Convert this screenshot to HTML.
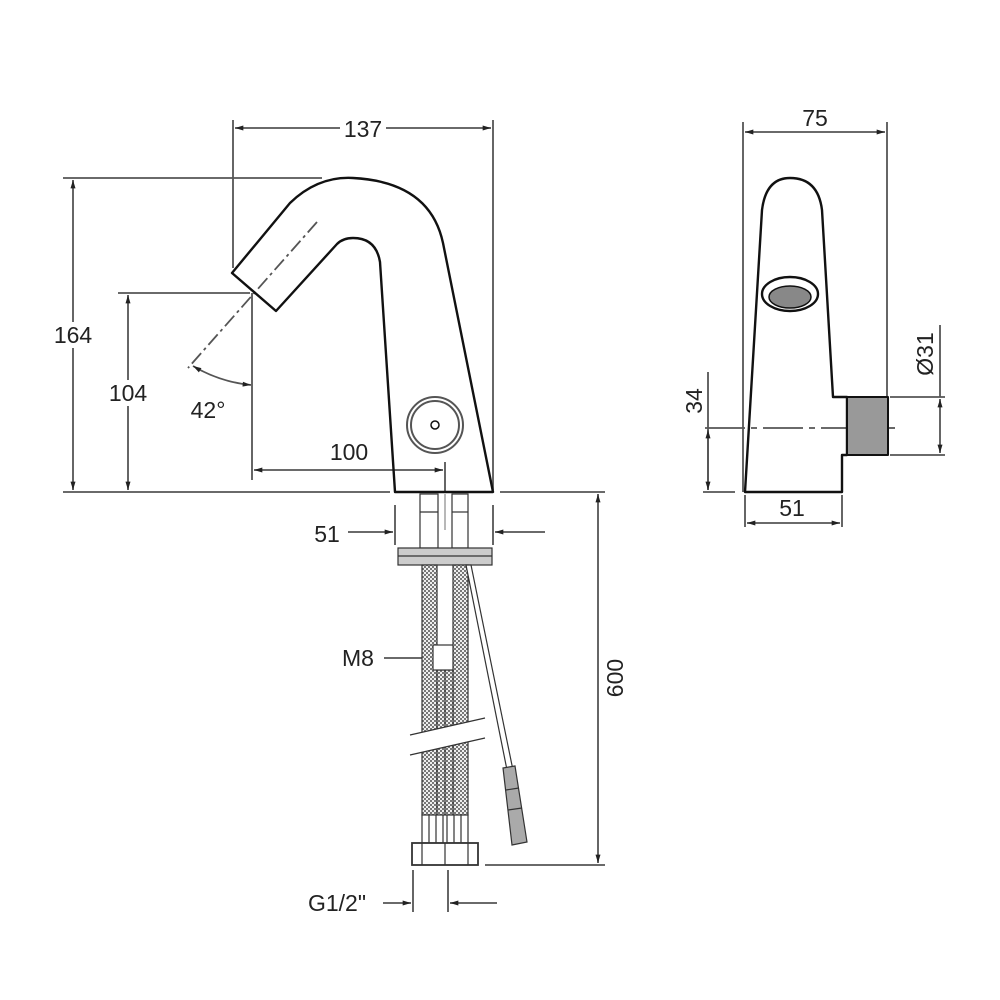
<!DOCTYPE html>
<html><head><meta charset="utf-8"><style>
html,body{margin:0;padding:0;background:#fff}
svg{display:block}
text{font-family:"Liberation Sans",sans-serif;font-size:23px;fill:#222}
</style></head><body>
<svg width="1000" height="1000" viewBox="0 0 1000 1000" xmlns="http://www.w3.org/2000/svg">
<defs>
<marker id="a" viewBox="0 0 10 6" refX="10" refY="3" markerWidth="12" markerHeight="5" orient="auto-start-reverse" markerUnits="userSpaceOnUse"><path d="M0,0 L10,3 L0,6 z" fill="#222"/></marker>
<pattern id="mesh" width="4" height="4" patternUnits="userSpaceOnUse"><rect width="4" height="4" fill="#777"/><rect width="2" height="2" fill="#eee"/><rect x="2" y="2" width="2" height="2" fill="#eee"/></pattern>
</defs>
<g stroke="#555" stroke-width="1.8" fill="none">
<line x1="233" y1="120" x2="233" y2="268"/><line x1="493" y1="120" x2="493" y2="490"/>
<line x1="235" y1="128" x2="491" y2="128" marker-start="url(#a)" marker-end="url(#a)"/>
<line x1="63" y1="178" x2="322" y2="178"/>
<line x1="73" y1="180" x2="73" y2="490" marker-start="url(#a)" marker-end="url(#a)"/>
<line x1="118" y1="293" x2="250" y2="293"/>
<line x1="128" y1="295" x2="128" y2="490" marker-start="url(#a)" marker-end="url(#a)"/>
<line x1="63" y1="492" x2="390" y2="492"/><line x1="500" y1="492" x2="605" y2="492"/>
<line x1="252" y1="293" x2="252" y2="480"/><line x1="445" y1="462" x2="445" y2="492"/>
<line x1="254" y1="470" x2="443" y2="470" marker-start="url(#a)" marker-end="url(#a)"/>
<line x1="317" y1="222" x2="188" y2="368" stroke-dasharray="14,4,3,4"/>
<path d="M193,366 Q220,382 251,385" marker-start="url(#a)" marker-end="url(#a)"/>
<line x1="395" y1="505" x2="395" y2="545"/><line x1="493" y1="505" x2="493" y2="545"/>
<line x1="348" y1="532" x2="393" y2="532" marker-end="url(#a)"/>
<line x1="545" y1="532" x2="495" y2="532" marker-end="url(#a)"/>
<line x1="598" y1="494" x2="598" y2="863" marker-start="url(#a)" marker-end="url(#a)"/>
<line x1="485" y1="865" x2="605" y2="865"/>
<line x1="384" y1="658" x2="431" y2="658" marker-end="url(#a)"/>
<line x1="413" y1="870" x2="413" y2="912"/><line x1="448" y1="870" x2="448" y2="912"/>
<line x1="383" y1="903" x2="411" y2="903" marker-end="url(#a)"/>
<line x1="497" y1="903" x2="450" y2="903" marker-end="url(#a)"/>
<line x1="743" y1="122" x2="743" y2="492"/><line x1="887" y1="122" x2="887" y2="398"/>
<line x1="745" y1="132" x2="885" y2="132" marker-start="url(#a)" marker-end="url(#a)"/>
<line x1="705" y1="428" x2="895" y2="428" stroke-dasharray="40,6,6,6"/>
<line x1="708" y1="372" x2="708" y2="490" />
<line x1="708" y1="430" x2="708" y2="490" marker-start="url(#a)" marker-end="url(#a)"/>
<line x1="703" y1="492" x2="735" y2="492"/>
<line x1="890" y1="397" x2="945" y2="397"/><line x1="890" y1="455" x2="945" y2="455"/>
<line x1="940" y1="325" x2="940" y2="397"/>
<line x1="940" y1="399" x2="940" y2="453" marker-start="url(#a)" marker-end="url(#a)"/>
<line x1="745" y1="495" x2="745" y2="527"/><line x1="842" y1="495" x2="842" y2="527"/>
<line x1="747" y1="523" x2="840" y2="523" marker-start="url(#a)" marker-end="url(#a)"/>
</g>
<g stroke="#111" stroke-width="2.4" fill="none" stroke-linejoin="round">
<path d="M232,273 L290,203 Q318,176 353,178 Q430,182 443,243 L493,492 L395,492 L380,262 Q376,238 353,238 Q343,238 337,244 L276,311 Z"/>
<circle cx="435" cy="425" r="28" stroke="#555" stroke-width="2"/>
<circle cx="435" cy="425" r="24" stroke="#555" stroke-width="2"/>
<circle cx="435" cy="425" r="4" stroke-width="1.5"/>
<path d="M745,492 L762,210 Q766,178 790,178 Q818,178 822,210 L833,397 L847,397 L847,455 L842,455 L842,492 Z"/>
<ellipse cx="790" cy="294" rx="28" ry="17"/>
<ellipse cx="790" cy="297" rx="21" ry="11" fill="#888" stroke-width="1.5"/>
<rect x="847" y="397" width="41" height="58" fill="#999" stroke-width="2"/>
</g>
<g stroke="#333" stroke-width="1.2">
<rect x="420" y="494" width="18" height="54" fill="#fff"/>
<rect x="452" y="494" width="16" height="54" fill="#fff"/>
<line x1="420" y1="512" x2="438" y2="512"/><line x1="452" y1="512" x2="468" y2="512"/>
<line x1="445" y1="494" x2="445" y2="530" stroke="#888"/>
<rect x="398" y="548" width="94" height="17" fill="#ccc"/>
<line x1="398" y1="556" x2="492" y2="556"/>
<rect x="422" y="565" width="15" height="250" fill="url(#mesh)"/>
<rect x="453" y="565" width="15" height="250" fill="url(#mesh)"/>
<rect x="437" y="670" width="16" height="145" fill="url(#mesh)"/>
<line x1="445" y1="670" x2="445" y2="815"/>
<rect x="433" y="645" width="20" height="25" fill="#fff"/>
<polygon points="410,735 485,718 485,738 410,755" fill="#fff" stroke="none"/>
<line x1="410" y1="735" x2="485" y2="718"/><line x1="410" y1="755" x2="485" y2="738"/>
<rect x="422" y="815" width="21" height="28" fill="#fff"/><rect x="447" y="815" width="21" height="28" fill="#fff"/>
<line x1="429" y1="815" x2="429" y2="843"/><line x1="436" y1="815" x2="436" y2="843"/>
<line x1="454" y1="815" x2="454" y2="843"/><line x1="461" y1="815" x2="461" y2="843"/>
<rect x="412" y="843" width="66" height="22" fill="#fff" stroke-width="1.8"/>
<line x1="422" y1="843" x2="422" y2="865"/><line x1="445" y1="843" x2="445" y2="865"/><line x1="468" y1="843" x2="468" y2="865"/>
<polygon points="466,565 471,565 515,780 509,780" fill="#fff"/>
<polygon points="503,768 515,766 527,842 512,845" fill="#aaa"/>
<line x1="506" y1="790" x2="519" y2="788"/><line x1="508" y1="810" x2="522" y2="808"/>
</g>
<g>
<rect x="340" y="116" width="46" height="24" fill="#fff"/><text x="363" y="137" text-anchor="middle">137</text>
<rect x="48" y="322" width="52" height="26" fill="#fff"/><text x="73" y="343" text-anchor="middle">164</text>
<rect x="103" y="380" width="52" height="26" fill="#fff"/><text x="128" y="401" text-anchor="middle">104</text>
<text x="208" y="418" text-anchor="middle">42°</text>
<text x="349" y="460" text-anchor="middle">100</text>
<text x="327" y="542" text-anchor="middle">51</text>
<text x="358" y="666" text-anchor="middle">M8</text>
<text x="337" y="911" text-anchor="middle">G1/2"</text>
<text transform="translate(623,678) rotate(-90)" text-anchor="middle">600</text>
<text x="815" y="126" text-anchor="middle">75</text>
<text transform="translate(702,401) rotate(-90)" text-anchor="middle">34</text>
<text transform="translate(933,354) rotate(-90)" text-anchor="middle">Ø31</text>
<text x="792" y="516" text-anchor="middle">51</text>
</g>
</svg>
</body></html>
